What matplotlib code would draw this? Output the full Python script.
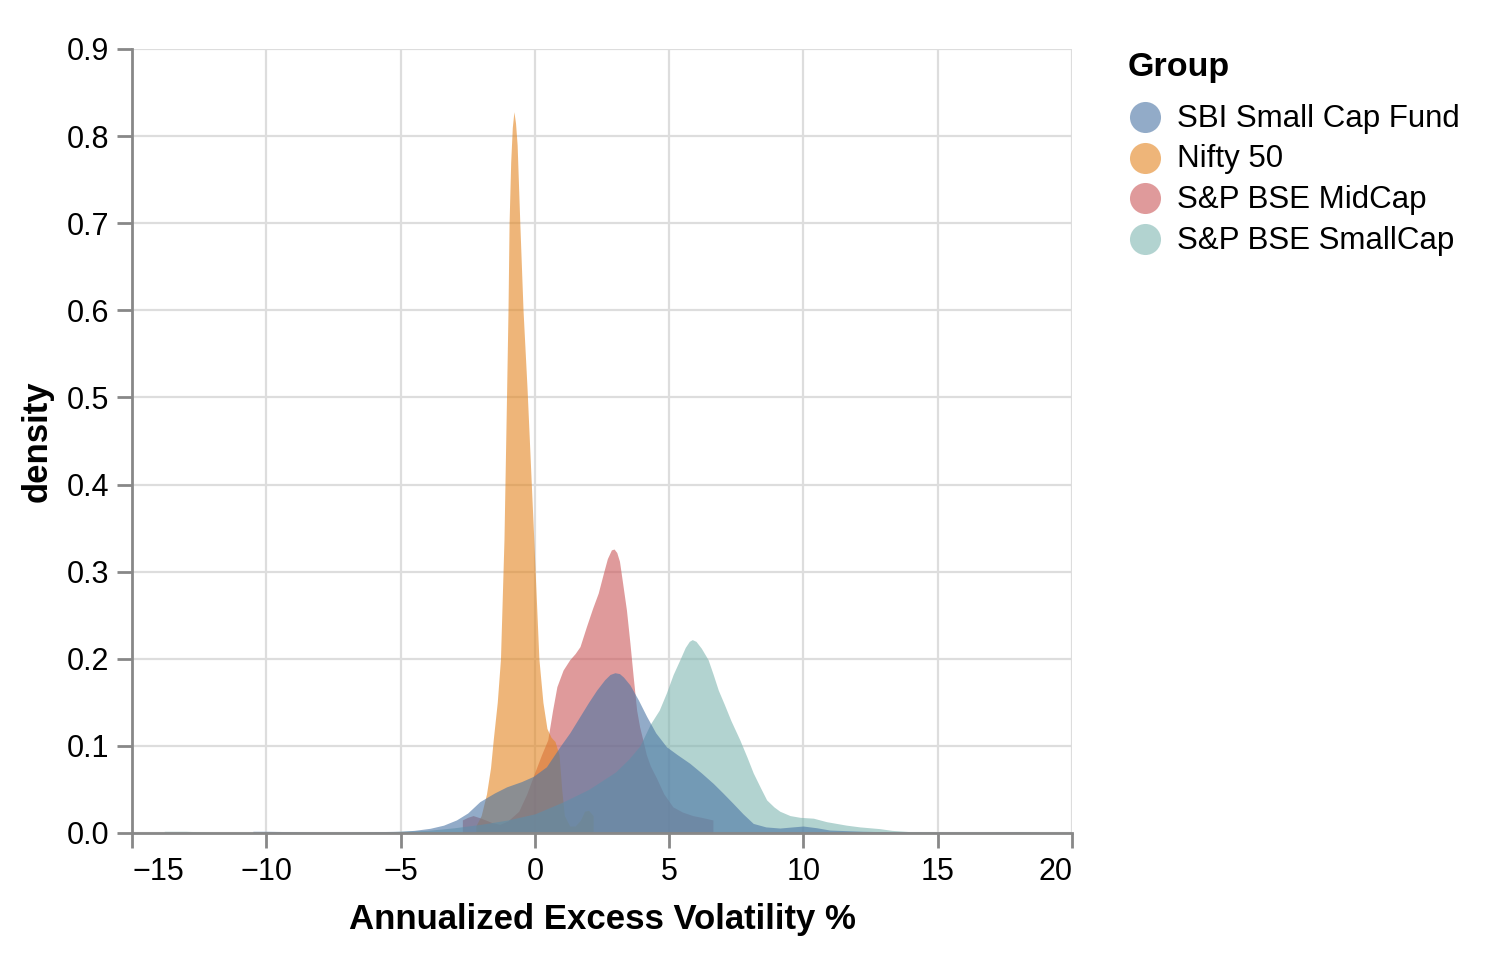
import numpy as np
import matplotlib
matplotlib.use('Agg')
import matplotlib.pyplot as plt

plt.rcParams['font.family'] = ['Liberation Sans', 'DejaVu Sans']

# density curves (x = excess volatility %, y = density)
groups = ['SBI Small Cap Fund', 'Nifty 50', 'S&P BSE MidCap', 'S&P BSE SmallCap']
colors = ['#4a74a4', '#e38520', '#cb5758', '#7fb6b1']

sbi_x = [-10.5, -10, -9, -8, -7, -6, -5, -4.5, -3.9, -3.4, -2.92, -2.5, -2.05, -1.5, -1.05, -0.5,
         -0.06, 0.43, 0.93, 1.3, 1.68, 2.0, 2.3, 2.6, 2.8, 2.98, 3.15, 3.3, 3.54, 3.85, 4.16, 4.5,
         4.9, 5.3, 5.77, 6.2, 6.64, 7.0, 7.38, 7.75, 8.13, 8.6, 9.12, 9.6, 9.99, 10.5, 10.98, 12.2,
         13.5, 15, 16.5, 18, 18.8]
sbi_y = [0.002, 0.002, 0.0015, 0.001, 0.001, 0.0015, 0.002, 0.003, 0.0054, 0.009, 0.015, 0.023,
         0.036, 0.046, 0.053, 0.059, 0.065, 0.076, 0.099, 0.115, 0.134, 0.15, 0.164, 0.176, 0.182,
         0.184, 0.183, 0.179, 0.17, 0.153, 0.134, 0.115, 0.099, 0.09, 0.080, 0.069, 0.057, 0.046,
         0.034, 0.022, 0.011, 0.007, 0.0057, 0.007, 0.008, 0.006, 0.0034, 0.002, 0.0012, 0.001,
         0.001, 0.0015, 0.001]

nifty_x = [-2.2, -2.0, -1.8, -1.65, -1.55, -1.4, -1.28, -1.15, -1.05, -1.0, -0.96, -0.9, -0.84,
           -0.78, -0.72, -0.66, -0.56, -0.44, -0.29, -0.04, 0.15, 0.3, 0.45, 0.6, 0.75, 0.9, 1.0,
           1.1, 1.3, 1.5, 1.7, 1.85, 2.0, 2.17]
nifty_y = [0.008, 0.02, 0.045, 0.075, 0.107, 0.15, 0.2, 0.337, 0.51, 0.6, 0.7, 0.77, 0.81, 0.828,
           0.815, 0.79, 0.7, 0.6, 0.51, 0.337, 0.2, 0.15, 0.12, 0.11, 0.105, 0.09, 0.05, 0.02,
           0.008, 0.008, 0.015, 0.025, 0.026, 0.02]

mid_x = [-2.7, -2.5, -2.3, -2.0, -1.6, -1.3, -1.0, -0.6, -0.3, 0.0, 0.25, 0.48, 0.66, 0.82, 1.05,
         1.3, 1.5, 1.68, 1.92, 2.15, 2.36, 2.55, 2.7, 2.85, 2.95, 3.05, 3.15, 3.23, 3.41, 3.54,
         3.66, 3.79, 3.9, 4.02, 4.15, 4.3, 4.53, 4.8, 5.14, 5.5, 5.88, 6.2, 6.63]
mid_y = [0.015, 0.018, 0.02, 0.017, 0.012, 0.01, 0.014, 0.025, 0.045, 0.07, 0.09, 0.107, 0.141,
         0.168, 0.187, 0.199, 0.206, 0.214, 0.237, 0.258, 0.2755, 0.298, 0.315, 0.325, 0.326,
         0.322, 0.312, 0.295, 0.256, 0.218, 0.18, 0.141, 0.122, 0.107, 0.09, 0.077, 0.063, 0.045,
         0.03, 0.024, 0.02, 0.018, 0.015]

small_x = [-13.8, -13.0, -12.0, -10, -8, -6, -4, -3, -2, -1, 0, 1, 2, 3, 3.5, 3.91, 4.3, 4.63,
           4.9, 5.15, 5.4, 5.6, 5.75, 5.86, 6.0, 6.2, 6.45, 6.64, 6.83, 7.05, 7.3, 7.63, 7.9, 8.13,
           8.4, 8.63, 8.9, 9.12, 9.5, 9.87, 10.37, 10.86, 11.6, 12.1, 12.84, 13.3, 14, 15, 16, 18,
           20]
small_y = [0.002, 0.002, 0.0008, 0.0005, 0.0005, 0.001, 0.003, 0.006, 0.01, 0.015, 0.022, 0.035,
           0.05, 0.07, 0.085, 0.1, 0.125, 0.141, 0.161, 0.182, 0.199, 0.213, 0.22, 0.222, 0.22,
           0.212, 0.199, 0.182, 0.164, 0.148, 0.129, 0.107, 0.087, 0.069, 0.052, 0.038, 0.03,
           0.025, 0.02, 0.018, 0.017, 0.013, 0.009, 0.007, 0.005, 0.003, 0.0015, 0.001, 0.0008,
           0.0008, 0.0008]

series = {
    'SBI Small Cap Fund': (sbi_x, sbi_y),
    'Nifty 50': (nifty_x, nifty_y),
    'S&P BSE MidCap': (mid_x, mid_y),
    'S&P BSE SmallCap': (small_x, small_y),
}
# bottom to top, blue ends up on top like in the original
draw_order = ['S&P BSE MidCap', 'Nifty 50', 'S&P BSE SmallCap', 'SBI Small Cap Fund']

W, H = 1488, 958
fig = plt.figure(figsize=(W / 100, H / 100), dpi=100)
ax = fig.add_axes([132 / W, 1 - 833 / H, (1072 - 132) / W, (833 - 49) / H])

for g in draw_order:
    xs, ys = series[g]
    c = colors[groups.index(g)]
    ax.fill_between(xs, 0, ys, color=c, alpha=0.6, linewidth=0, zorder=2)

ax.set_xlim(-15, 20)
ax.set_ylim(0, 0.9)
ax.set_xticks(np.arange(-15, 21, 5))
ax.set_yticks(np.arange(0, 0.91, 0.1))
ax.set_yticklabels(['%.1f' % v for v in np.arange(0, 0.91, 0.1)])

grid_c = '#dddddd'
axis_c = '#888888'
ax.grid(True, color=grid_c, linewidth=1.6, zorder=0)
ax.set_axisbelow(True)
for s in ['top', 'right']:
    ax.spines[s].set_visible(False)
for s in ['left', 'bottom']:
    ax.spines[s].set_color(axis_c)
    ax.spines[s].set_linewidth(2.0)
    ax.spines[s].set_zorder(3)
ax.tick_params(length=10.5, width=2.0, color=axis_c, labelsize=22, pad=6, labelcolor='#000000')
ax.tick_params(axis='x', pad=7)

# flush first/last x labels like vega does
xl = ax.get_xticklabels()
xl[0].set_ha('left')
xl[-1].set_ha('right')

ax.set_xlabel('Annualized Excess Volatility %', fontsize=25, fontweight='bold', labelpad=11)
ax.set_ylabel('density', fontsize=25, fontweight='bold', labelpad=9)

# legend drawn by hand in pixel coords of the figure
lax = fig.add_axes([0, 0, 1, 1])
lax.set_xlim(0, W)
lax.set_ylim(H, 0)
lax.axis('off')
lax.text(1128, 67, 'Group', fontsize=24.5, fontweight='bold', ha='left', va='center')
for i, (g, c) in enumerate(zip(groups, colors)):
    yy = 117 + i * 40.7
    lax.scatter([1145], [yy], s=500, color=c, alpha=0.6, linewidths=0)
    lax.text(1177, yy + 1.5, g, fontsize=22.5, ha='left', va='center')

fig.savefig('out.png', dpi=100)
